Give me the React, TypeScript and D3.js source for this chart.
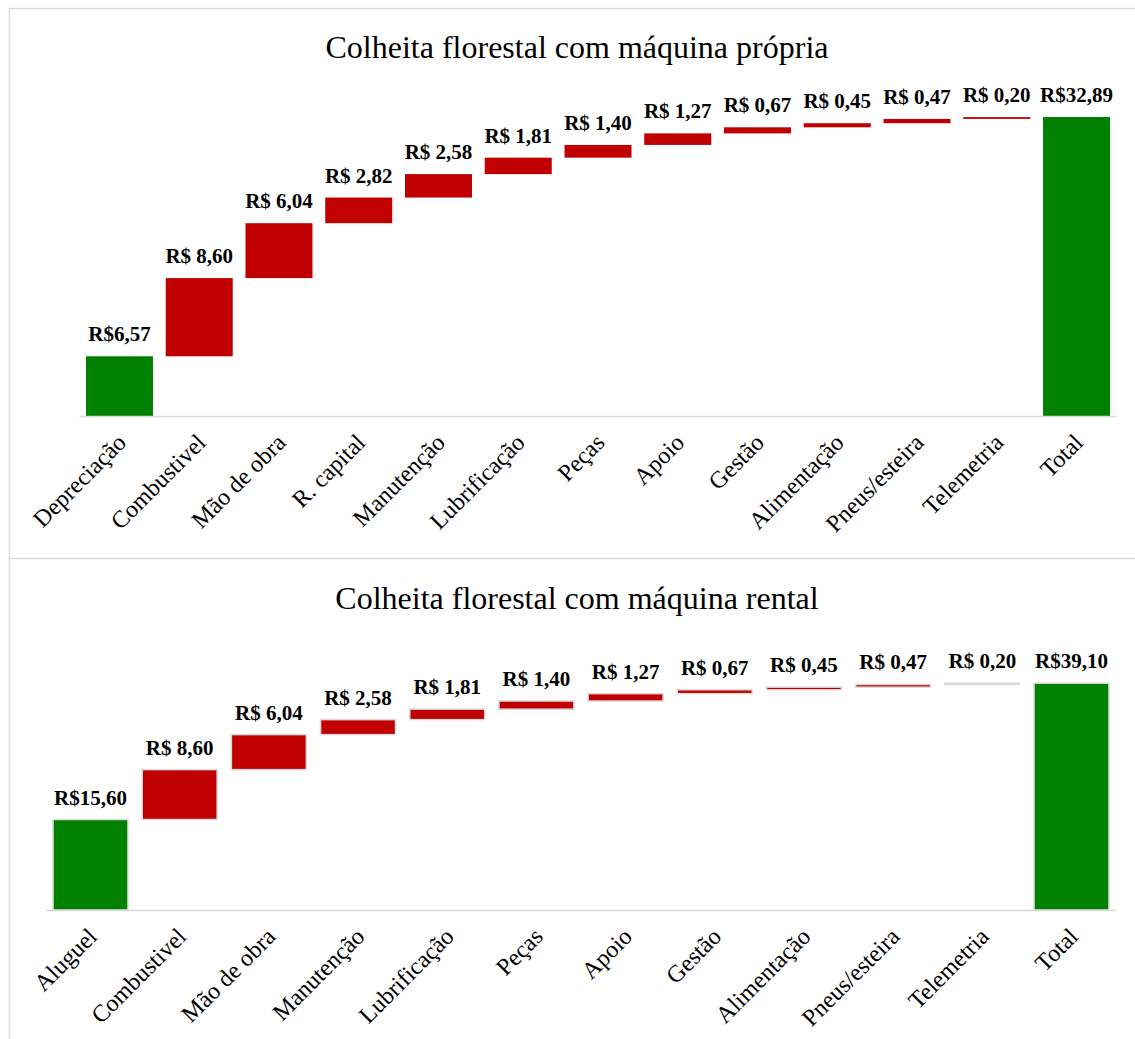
import React from "react";
import * as d3 from "d3";

// chart 1: own machine
const ownCategories = [
  "Depreciação", "Combustivel", "Mão de obra", "R. capital", "Manutenção", "Lubrificação",
  "Peças", "Apoio", "Gestão", "Alimentação", "Pneus/esteira", "Telemetria",
];
const ownValues = [6.57, 8.6, 6.04, 2.82, 2.58, 1.81, 1.4, 1.27, 0.67, 0.45, 0.47, 0.2];
const ownTotal = 32.89;

// chart 2: rented machine
const rentCategories = [
  "Aluguel", "Combustivel", "Mão de obra", "Manutenção", "Lubrificação",
  "Peças", "Apoio", "Gestão", "Alimentação", "Pneus/esteira", "Telemetria",
];
const rentValues = [15.6, 8.6, 6.04, 2.58, 1.81, 1.4, 1.27, 0.67, 0.45, 0.47, 0.2];
const rentTotal = 39.1;

const GREEN = "#008000";
const RED = "#c00000";
const GRID = "#d9d9d9";
const FONT = "'Times New Roman', 'Liberation Serif', serif";

const fmt = (v: number, first: boolean) =>
  (first ? "R$" : "R$ ") + v.toFixed(2).replace(".", ",");

type Props = {
  title: string;
  titleY: number;
  categories: string[];
  values: number[];
  total: number;
  x0: number;
  x1: number;
  baseY: number;
  yMax: number;
  pxPerUnit: number;
  gap: number;
  stroke: number;
};

const Waterfall = (p: Props) => {
  const cats = [...p.categories, "Total"];
  const x = d3.scaleBand<string>().domain(cats).range([p.x0, p.x1]).paddingInner(p.gap).paddingOuter(p.gap / 2);
  const y = d3.scaleLinear().domain([0, p.yMax]).range([p.baseY, p.baseY - p.yMax * p.pxPerUnit]);

  let run = 0;
  const bars = p.values.map((v, i) => {
    const start = i === 0 ? 0 : run;
    run += v;
    return { cat: cats[i], lo: start, hi: start + v, v, first: i === 0, color: i === 0 ? GREEN : RED };
  });
  bars.push({ cat: "Total", lo: 0, hi: p.total, v: p.total, first: true, color: GREEN });

  const bw = x.bandwidth();
  return (
    <g>
      <text x={577} y={p.titleY} textAnchor="middle" fontFamily={FONT} fontSize={32} fill="#000">
        {p.title}
      </text>
      {bars.map((b) => (
        <rect
          key={b.cat}
          x={x(b.cat)}
          y={y(b.hi)}
          width={bw}
          height={Math.max(0, y(b.lo) - y(b.hi))}
          fill={b.color}
          stroke={p.stroke > 0 ? GRID : "none"}
          strokeWidth={p.stroke}
        />
      ))}
      <line x1={p.x0} x2={p.x1} y1={p.baseY + 0.5} y2={p.baseY + 0.5} stroke={GRID} strokeWidth={1.5} />
      {bars.map((b) => (
        <text
          key={"v" + b.cat}
          x={(x(b.cat) as number) + bw / 2}
          y={y(b.hi) - 15}
          textAnchor="middle"
          fontFamily={FONT}
          fontWeight="bold"
          fontSize={21}
          fill="#000"
        >
          {fmt(b.v, b.first)}
        </text>
      ))}
      {cats.map((c) => {
        const cx = (x(c) as number) + bw / 2 + 8;
        const cy = p.baseY + 28;
        return (
          <text
            key={"c" + c}
            transform={`translate(${cx},${cy}) rotate(-45)`}
            textAnchor="end"
            fontFamily={FONT}
            fontSize={24}
            fill="#000"
          >
            {c}
          </text>
        );
      })}
    </g>
  );
};

export default function App() {
  return (
    <svg
      width={1135}
      height={1039}
      style={{ position: "absolute", left: 0, top: 0, background: "#fff" }}
    >
      <rect x={0} y={0} width={1135} height={1039} fill="#fff" />
      <line x1={9.5} x2={9.5} y1={8} y2={1039} stroke={GRID} strokeWidth={1.5} />
      <line x1={9} x2={1135} y1={8.5} y2={8.5} stroke={GRID} strokeWidth={1.5} />
      <line x1={9} x2={1135} y1={558.5} y2={558.5} stroke={GRID} strokeWidth={1.5} />
      <Waterfall
        title="Colheita florestal com máquina própria"
        titleY={58}
        categories={ownCategories}
        values={ownValues}
        total={ownTotal}
        x0={79.6}
        x1={1116.4}
        baseY={416}
        yMax={35}
        pxPerUnit={9.09}
        gap={0.16}
        stroke={0}
      />
      <Waterfall
        title="Colheita florestal com máquina rental"
        titleY={609}
        categories={rentCategories}
        values={rentValues}
        total={rentTotal}
        x0={45.9}
        x1={1116.1}
        baseY={910}
        yMax={45}
        pxPerUnit={5.8}
        gap={0.16}
        stroke={1.5}
      />
    </svg>
  );
}
